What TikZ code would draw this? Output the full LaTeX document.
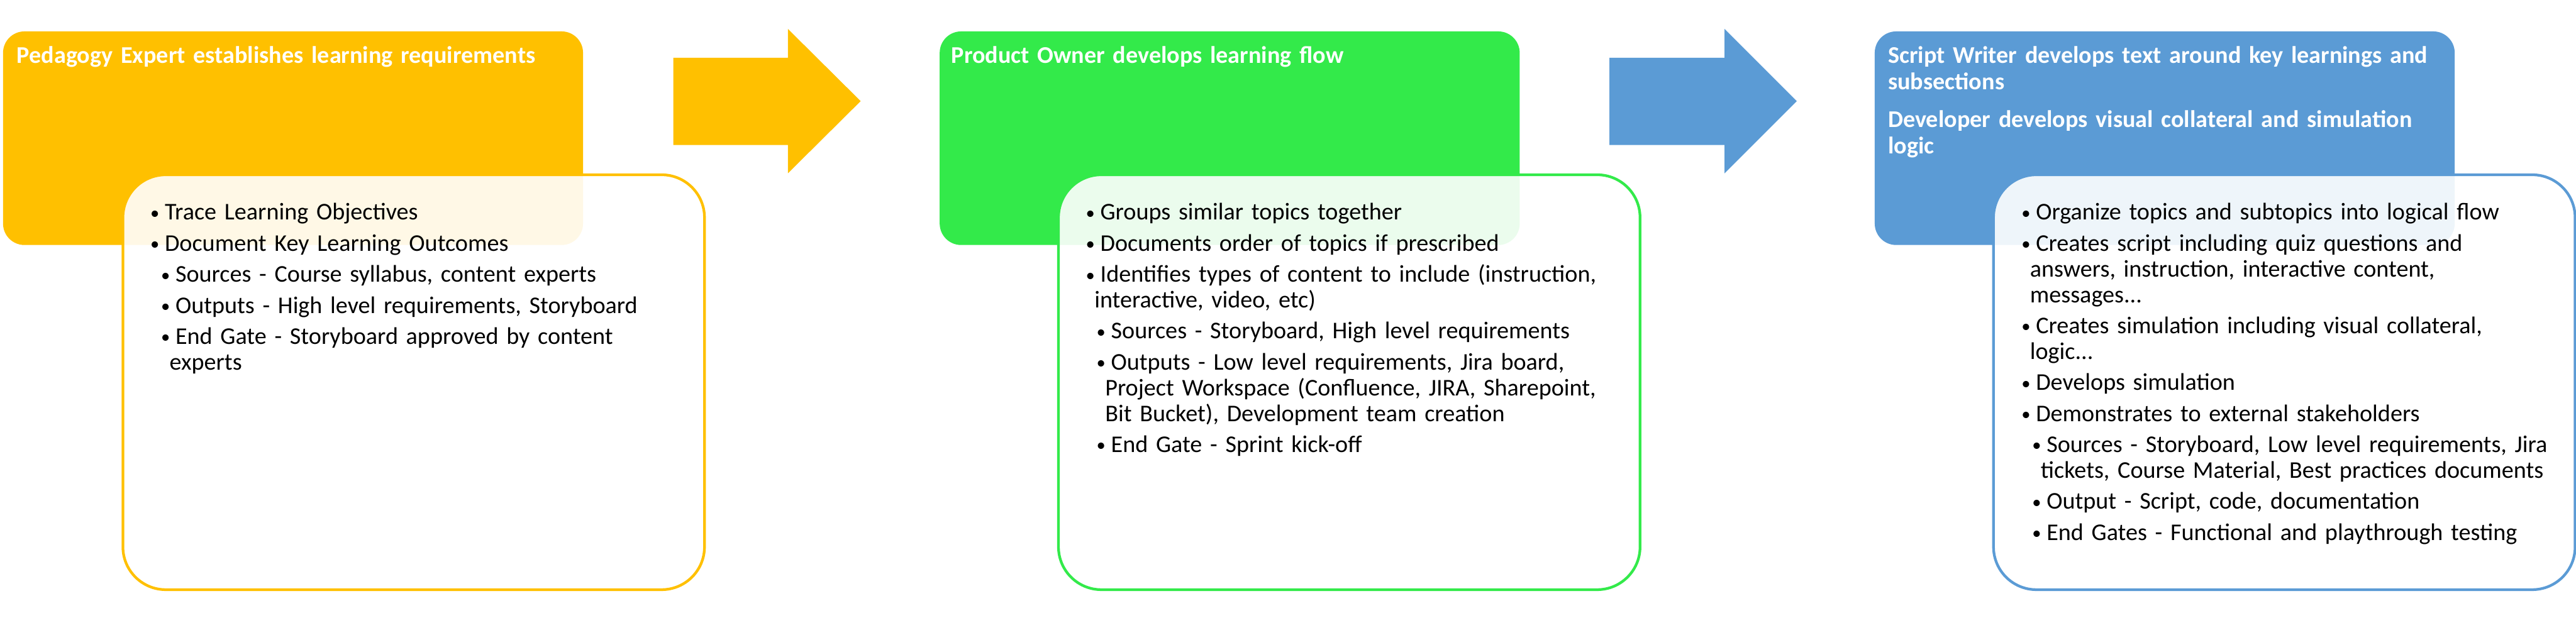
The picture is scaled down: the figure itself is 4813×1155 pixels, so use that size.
\documentclass[tikz,border=0pt]{standalone}
\usepackage{fontspec}
\setmainfont{Carlito}
\usepackage{graphicx}
\usepackage{tikz}
\usetikzlibrary{positioning}
\definecolor{pedyellow}{HTML}{FFC000}
\definecolor{ownergreen}{HTML}{33EA4A}
\definecolor{devblue}{HTML}{5B9BD5}

\newcommand{\dotmark}{\makebox[0.28cm][l]{\hspace{0.01cm}\raisebox{0.02cm}{\scalebox{0.75}{\textbullet}}}}
\newcommand{\lvlone}[1]{\noindent\hangindent=0.17cm\hangafter=1\dotmark#1\par}
\newcommand{\lvltwo}[1]{\noindent\hangindent=0.37cm\hangafter=1\hspace*{0.20cm}\dotmark#1\par}

\begin{document}
\begin{tikzpicture}[x=0.01cm, y=-0.01cm, font=\fontsize{12.75pt}{0.48cm}\selectfont,
    stagebox/.style={rounded corners=0.4cm, minimum width=10.83cm, minimum height=3.99cm, inner sep=0pt, anchor=north west},
    taskbox/.style={fill=white, fill opacity=0.9, line width=0.05cm, rounded corners=0.8cm, minimum width=10.86cm, minimum height=7.75cm, inner sep=0pt},
    stagetitle/.style={text=white, font=\fontsize{12.75pt}{0.49cm}\selectfont\bfseries, text width=10.6cm, align=left, inner sep=0pt, execute at begin node={\setlength{\parskip}{0.22cm}}},
    tasklist/.style={text=black, text width=11cm, align=left, inner sep=0pt, execute at begin node={\setlength{\parskip}{0.10cm}}}]
    \useasboundingbox (0,0) rectangle (4813,1155);

    % stage boxes
    \node[stagebox, fill=pedyellow] (s1) at (5,58) {};
    \node[stagebox, fill=ownergreen] (s2) at (1755,58) {};
    \node[stagebox, fill=devblue] (s3) at (3502,58) {};

    % block arrows
    \fill[pedyellow, shift={(s1.north east)}] (168,50) -- (382,50) -- (382,-4) -- (518,131) -- (382,266) -- (382,213) -- (168,213) -- cycle;
    \fill[devblue, shift={(s2.north east)}] (167,50) -- (382,50) -- (382,-4) -- (517,131) -- (382,266) -- (382,213) -- (167,213) -- cycle;

    % task boxes
    \node[taskbox, draw=pedyellow, below right=2.66cm and 2.22cm of s1.north west] (k1) {};
    \node[taskbox, draw=ownergreen, below right=2.66cm and 2.20cm of s2.north west] (k2) {};
    \node[taskbox, draw=devblue, below right=2.66cm and 2.20cm of s3.north west] (k3) {};

    % titles
    \node[stagetitle, below right=0.60cm and 0.26cm of s1.north west, anchor=base west] (h1) {Pedagogy Expert establishes learning requirements};
    \node[stagetitle, below right=0.60cm and 0.22cm of s2.north west, anchor=base west] (h2) {Product Owner develops learning flow};
    \node[stagetitle, below right=0.60cm and 0.25cm of s3.north west, anchor=base west] (h3) {Script Writer develops text around key learnings and\newline subsections\par Developer develops visual collateral and simulation\newline logic};

    % task lists
    \node[tasklist, below right=0.87cm and 0.52cm of k1.north west, anchor=base west] (l1) {%
        \lvlone{Trace Learning Objectives}
        \lvlone{Document Key Learning Outcomes}
        \lvltwo{Sources - Course syllabus, content experts}
        \lvltwo{Outputs - High level requirements, Storyboard}
        \lvltwo{End Gate - Storyboard approved by content\newline experts}};
    \node[tasklist, below right=0.87cm and 0.52cm of k2.north west, anchor=base west] (l2) {%
        \lvlone{Groups similar topics together}
        \lvlone{Documents order of topics if prescribed}
        \lvlone{Identifies types of content to include (instruction,\newline interactive, video, etc)}
        \lvltwo{Sources - Storyboard, High level requirements}
        \lvltwo{Outputs - Low level requirements, Jira board,\newline Project Workspace (Confluence, JIRA, Sharepoint,\newline Bit Bucket), Development team creation}
        \lvltwo{End Gate - Sprint kick-off}};
    \node[tasklist, below right=0.87cm and 0.53cm of k3.north west, anchor=base west] (l3) {%
        \lvlone{Organize topics and subtopics into logical flow}
        \lvlone{Creates script including quiz questions and\newline answers, instruction, interactive content,\newline messages...}
        \lvlone{Creates simulation including visual collateral,\newline logic...}
        \lvlone{Develops simulation}
        \lvlone{Demonstrates to external stakeholders}
        \lvltwo{Sources - Storyboard, Low level requirements, Jira\newline tickets, Course Material, Best practices documents}
        \lvltwo{Output - Script, code, documentation}
        \lvltwo{End Gates - Functional and playthrough testing}};
\end{tikzpicture}
\end{document}
